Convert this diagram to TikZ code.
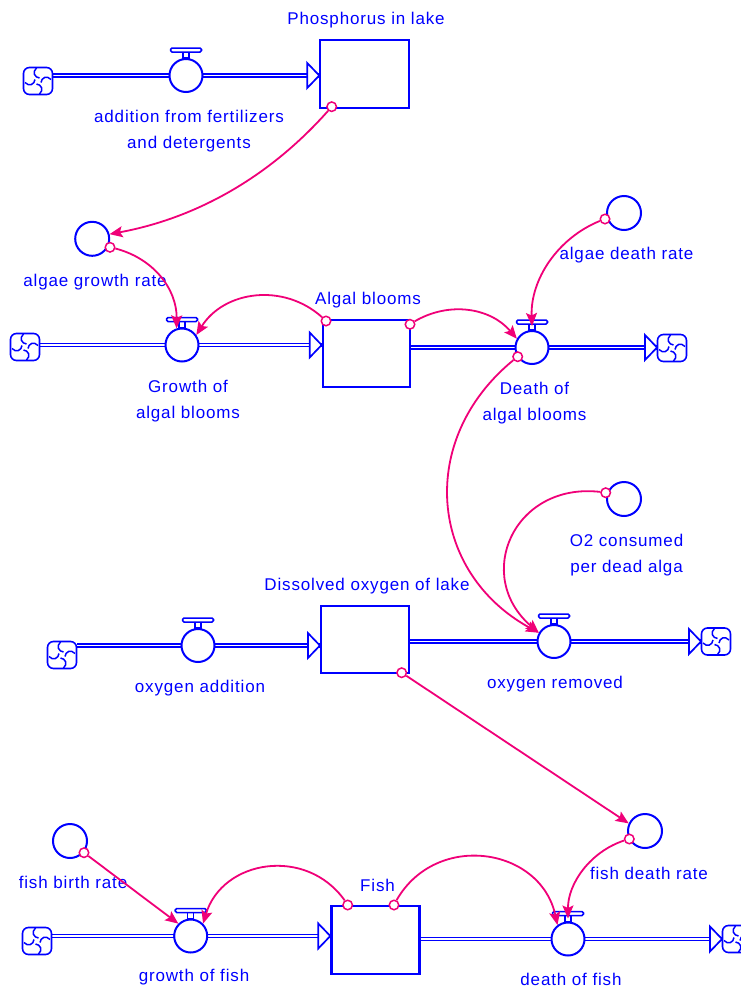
\documentclass[tikz,border=0pt]{standalone}
\usepackage{fontspec}
\setmainfont{Liberation Sans}
\newfontfamily\lblfont[LetterSpace=5]{Liberation Sans}
\usetikzlibrary{arrows.meta}
\definecolor{vblue}{RGB}{0,0,255}
\definecolor{vpink}{RGB}{240,0,120}
\tikzset{
  lbl/.style={text=vblue, font=\lblfont\fontsize{17}{26}\selectfont, inner sep=0pt, text height=0.75em, text depth=0.22em},
  lbltwo/.style={text=vblue, font=\lblfont\fontsize{17}{26}\selectfont, inner sep=0pt, align=center},
  stock/.style={draw=vblue, line width=2.2pt, fill=white, minimum width=88pt, minimum height=67pt, inner sep=0pt},
  valve/.style={draw=vblue, line width=2pt, fill=white, circle, minimum size=33pt, inner sep=0pt},
  aux/.style={draw=vblue, line width=2pt, fill=white, circle, minimum size=34pt, inner sep=0pt},
  cloudbox/.style={minimum size=30pt, inner sep=0pt, outer sep=0pt},
  pin/.style={draw=vpink, line width=1.5pt, fill=white, circle, minimum size=9.5pt, inner sep=0pt},
  pipe/.style={draw=vblue, line width=1.6pt, double=white, double distance=1.6pt},
  pipetri/.style={draw=vblue, line width=1.7pt, fill=white, line join=miter},
  conn/.style={draw=vpink, line width=1.8pt, -{Stealth[length=13pt,width=11pt,inset=2.5pt]}},
  valvetop/.pic={
    \draw[vblue, line width=1.5pt, fill=white] (-3,17.5) rectangle (3,23.5);
    \draw[vblue, line width=1.5pt, fill=white, rounded corners=1.5pt] (-15.5,23.5) rectangle (15.5,27.5);
  },
  cloudpic/.pic={
    \draw[vblue, line width=1.6pt, fill=white, rounded corners=6pt] (-14.5,-13.5) rectangle (14.5,13.5);
    \foreach \r in {0,90,180,270}
      \draw[vblue, line width=1.5pt, rotate=\r] (-1.5,13) .. controls (-6,9) and (-3.5,3.5) .. (1.5,3);
  }
}
\begin{document}
\begin{tikzpicture}[x=1pt,y=1pt]
\useasboundingbox (0,0) rectangle (741,-988);
\fill[white] (0,0) rectangle (741,-988);

% ---------- nodes: stocks ----------
\node[stock, minimum width=88.7pt, minimum height=68pt] (sP) at (364.7,-73.7) {};
\node[stock, minimum width=87.3pt] (sA) at (366.4,-353.5) {};
\node[stock] (sO) at (365,-639.5) {};
\node[stock, minimum height=68.5pt] (sF) at (375.4,-940) {};

% ---------- clouds ----------
\node[cloudbox] (cl1) at (38,-81) {};
\node[cloudbox] (cl2) at (25,-347) {};
\node[cloudbox] (cl3) at (672,-348) {};
\node[cloudbox] (cl4) at (62,-655) {};
\node[cloudbox] (cl5) at (716,-641.5) {};
\node[cloudbox] (cl6) at (37,-941) {};
\node[cloudbox] (cl7) at (737,-939) {};

% ---------- valve anchors (for pipes) ----------
\coordinate (vAc) at (186,-75.5);
\coordinate (vGc) at (182,-345);
\coordinate (vDc) at (532,-347.5);
\coordinate (vOAc) at (198,-645.5);
\coordinate (vORc) at (554,-641.5);
\coordinate (vGFc) at (190.7,-936);
\coordinate (vDFc) at (568,-939);

% ---------- pipes ----------
\draw[pipe] (cl1.east |- vAc) -- (sP.west |- vAc);
\draw[pipe] (cl2.east |- vGc) -- (sA.west |- vGc);
\draw[pipe] (sA.east |- vDc) -- (cl3.west |- vDc);
\draw[pipe] (cl4.east |- vOAc) -- (sO.west |- vOAc);
\draw[pipe] (sO.east |- vORc) -- (cl5.west |- vORc);
\draw[pipe] (cl6.east |- vGFc) -- (sF.west |- vGFc);
\draw[pipe] (sF.east |- vDFc) -- (cl7.west |- vDFc);

\draw[pipetri] (sP.west |- vAc) -- ++(-12,12.5) -- ++(0,-25) -- cycle;
\draw[pipetri] (sA.west |- vGc) -- ++(-12,12.5) -- ++(0,-25) -- cycle;
\draw[pipetri] (cl3.west |- vDc) -- ++(-12,12.5) -- ++(0,-25) -- cycle;
\draw[pipetri] (sO.west |- vOAc) -- ++(-12,12.5) -- ++(0,-25) -- cycle;
\draw[pipetri] (cl5.west |- vORc) -- ++(-12,12.5) -- ++(0,-25) -- cycle;
\draw[pipetri] (sF.west |- vGFc) -- ++(-12,12.5) -- ++(0,-25) -- cycle;
\draw[pipetri] (cl7.west |- vDFc) -- ++(-12,12.5) -- ++(0,-25) -- cycle;

% cloud drawings
\foreach \c in {cl1,cl2,cl3,cl4,cl5,cl6,cl7} \pic at (\c) {cloudpic};

% ---------- valves ----------
\node[valve] (vA) at (vAc) {};
\node[valve] (vG) at (vGc) {};
\node[valve] (vD) at (vDc) {};
\node[valve] (vOA) at (vOAc) {};
\node[valve] (vOR) at (vORc) {};
\node[valve] (vGF) at (vGFc) {};
\node[valve] (vDF) at (vDFc) {};
\foreach \v in {vA,vG,vD,vOA,vOR,vGF,vDF} \pic at (\v) {valvetop};

% ---------- auxiliaries ----------
\node[aux] (aGR) at (92.2,-238.8) {};
\node[aux] (aDR) at (624,-213) {};
\node[aux] (aO2) at (624,-499) {};
\node[aux] (aFB) at (70,-841) {};
\node[aux] (aFD) at (645,-831) {};

% ---------- labels ----------
\node[lbl] (t1) at (366,-22) {Phosphorus in lake};
\node[lbltwo] (t2) at (189,-131.5) {addition from fertilizers\\and detergents};
\node[lbl] (t3) at (95,-284) {algae growth rate};
\node[lbl] (t4) at (368,-302) {Algal blooms};
\node[lbltwo] (t5) at (188,-401) {Growth of\\algal blooms};
\node[lbltwo] (t6) at (534.5,-403) {Death of\\algal blooms};
\node[lbl] (t7) at (626.5,-257) {algae death rate};
\node[lbltwo] (t8) at (626.5,-555.5) {O2 consumed\\per dead alga};
\node[lbl] (t9) at (367,-588) {Dissolved oxygen of lake};
\node[lbl] (t10) at (200,-690) {oxygen addition};
\node[lbl] (t11) at (555,-686) {oxygen removed};
\node[lbl] (t12) at (73,-885.5) {fish birth rate};
\node[lbl] (t13) at (649,-877) {fish death rate};
\node[lbl] (t14) at (377.5,-889) {Fish};
\node[lbl] (t15) at (194,-979) {growth of fish};
\node[lbl, text depth=0pt, anchor=base] (t16) at (571,-985.5) {death of fish};

% ---------- connectors ----------
\node[pin] (p1) at (331.7,-106.7) {};
\node[pin] (p2) at (110,-247.3) {};
\node[pin] (p3) at (326,-321) {};
\node[pin] (p4) at (410,-324.3) {};
\node[pin] (p5) at (605,-219) {};
\node[pin] (p6) at (517.7,-356.7) {};
\node[pin] (p7) at (605.7,-492.7) {};
\node[pin] (p8) at (401.7,-672.7) {};
\node[pin] (p9) at (629.3,-839) {};
\node[pin] (p10) at (347.7,-905) {};
\node[pin] (p11) at (394,-905) {};
\node[pin] (p12) at (84,-852.7) {};

\draw[conn] (p1) to[bend left=19, looseness=0.9] (aGR.15);
\draw[conn] (p2) to[bend left=38] (vG.108);
\draw[conn] (p3) to[bend right=50, looseness=1.05] (vG.35);
\draw[conn] (p4) to[bend left=40] (vD.150);
\draw[conn] (p5) to[bend right=35, looseness=0.94] ([yshift=4pt]vD.north);
\draw[conn] (p6) to[bend right=56, looseness=1.17] (vOR.150);
\draw[conn] (p7) to[bend right=73, looseness=1.45] (vOR.150);
\draw[conn] (p8) -- (aFD.155);
\draw[conn] (p9) to[bend right=36, looseness=0.94] ([yshift=3pt]vDF.north);
\draw[conn] (p10) to[bend right=64, looseness=1.19] (vGF.45);
\draw[conn] (p11) to[bend left=69, looseness=1.25] (vDF.127);
\draw[conn] (p12) -- (vGF.135);
\end{tikzpicture}
\end{document}
